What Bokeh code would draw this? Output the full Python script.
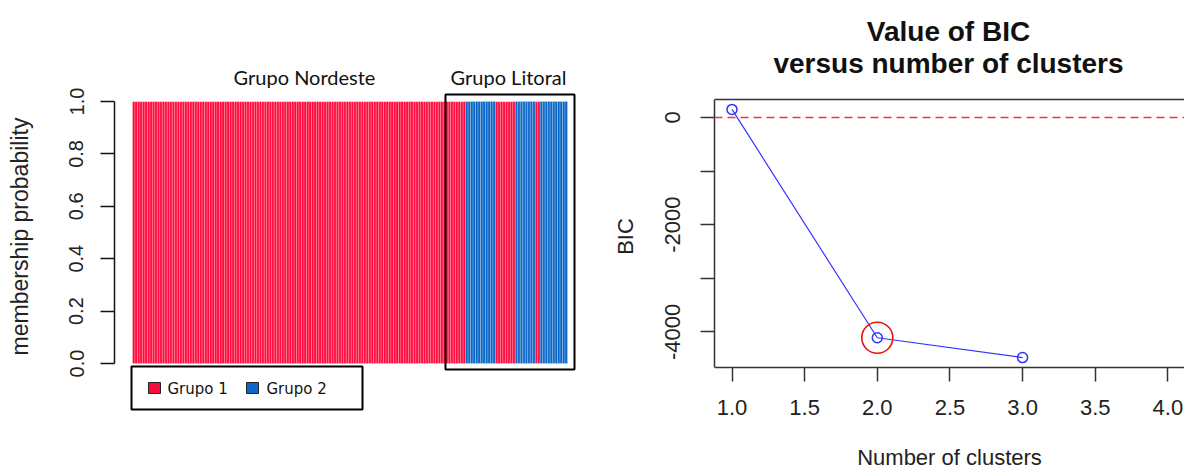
import numpy as np
from bokeh.plotting import figure
from bokeh.layouts import row
from bokeh.models import Range1d, FixedTicker, LinearAxis, Span
from bokeh.core.properties import value
from bokeh.embed import file_html
from bokeh.resources import INLINE

# ---------------- data: membership probability (structure-like) plot
groups = ["Grupo 1", "Grupo 2"]
group_colors = ["#FF0A3C", "#0A68C8"]
# consecutive runs of individuals (left to right) and the group they belong to
run_group = ["Grupo 1", "Grupo 2", "Grupo 1", "Grupo 2", "Grupo 1", "Grupo 2"]
run_length = [134, 12, 8, 8, 2, 11]
membership_prob = 1.0
region_labels = ["Grupo Nordeste", "Grupo Litoral"]
prob_ticks = [0.0, 0.2, 0.4, 0.6, 0.8, 1.0]
prob_tick_labels = ["0.0", "0.2", "0.4", "0.6", "0.8", "1.0"]

# ---------------- data: BIC vs number of clusters
n_clusters = [1, 2, 3]
bic_values = [150, -4110, -4480]
best_k = 2
bic_ticks = [0, -1000, -2000, -3000, -4000]
bic_tick_labels = ["0", "", "-2000", "", "-4000"]
k_ticks = [1.0, 1.5, 2.0, 2.5, 3.0, 3.5, 4.0]
k_tick_labels = ["1.0", "1.5", "2.0", "2.5", "3.0", "3.5", "4.0"]
bic_title = ["Value of BIC", "versus number of clusters"]

FONT = "Liberation Sans"
TXT = "#222222"
AX = "#333333"

# page size and shared vertical frame extent (page px)
PAGE_H = 472
FRAME_TOP, FRAME_BOTTOM = 4, 468

# ---------------- left panel
assign = []
for g, n in zip(run_group, run_length):
    assign += [g] * n
n_ind = len(assign)
idx = np.arange(n_ind)
p_g1 = np.array([membership_prob if a == groups[0] else 1 - membership_prob for a in assign])

px_per_bar = 435.0 / n_ind  # layout: bars span 435 px


def dx(px):
    return -0.5 + (px - 132) / px_per_bar


def dy(py):
    return (363 - py) / 262.0


p1 = figure(width=600, height=PAGE_H, output_backend="svg", toolbar_location=None,
            x_range=Range1d(dx(114), dx(590)),
            y_range=Range1d(dy(FRAME_BOTTOM), dy(FRAME_TOP)),
            x_axis_location=None, y_axis_location=None,
            min_border_left=114, min_border_right=10,
            min_border_top=FRAME_TOP, min_border_bottom=PAGE_H - FRAME_BOTTOM)
p1.title = None
p1.outline_line_color = None
p1.grid.visible = False
p1.background_fill_color = "white"
p1.border_fill_color = "white"

p1.vbar(x=idx, width=1.0, bottom=0, top=p_g1, fill_color=group_colors[0],
        line_color="white", line_width=0.5, line_alpha=0.45)
p1.vbar(x=idx, width=1.0, bottom=p_g1, top=1.0, fill_color=group_colors[1],
        line_color="white", line_width=0.5, line_alpha=0.45)

yax = LinearAxis(bounds=(0, 1), ticker=FixedTicker(ticks=prob_ticks),
                 major_label_overrides={t: l for t, l in zip(prob_ticks, prob_tick_labels)},
                 axis_label="membership probability")
yax.major_label_orientation = "vertical"
yax.axis_line_color = "#111111"
yax.axis_line_width = 1.5
yax.major_tick_line_color = "#111111"
yax.major_tick_line_width = 1.5
yax.major_tick_out = 14
yax.major_tick_in = 0
yax.minor_tick_line_color = None
yax.major_label_standoff = 17
yax.major_label_text_font = FONT
yax.major_label_text_font_size = "20px"
yax.major_label_text_color = TXT
yax.axis_label_text_font = FONT
yax.axis_label_text_font_size = "23px"
yax.axis_label_text_font_style = "normal"
yax.axis_label_text_color = TXT
yax.axis_label_standoff = 34
p1.add_layout(yax, "left")

# region labels and Litoral box
p1.text(x=[dx(304), dx(508)], y=[dy(76), dy(76)], text=region_labels,
        text_align="center", text_baseline="middle", text_font=value("Lato"),
        text_font_size="20px", text_color="#111111")
p1.quad(left=[dx(445)], right=[dx(574)], top=[dy(94)], bottom=[dy(369)],
        fill_color=None, line_color="black", line_width=2)

# legend
p1.quad(left=[dx(131)], right=[dx(362)], top=[dy(366)], bottom=[dy(409)],
        fill_color="white", line_color="black", line_width=2)
p1.quad(left=[dx(148), dx(246)], right=[dx(160), dx(258)],
        top=[dy(382), dy(382)], bottom=[dy(393), dy(393)],
        fill_color=group_colors, line_color="#222222", line_width=1)
p1.text(x=[dx(167), dx(266)], y=[dy(388), dy(388)], text=groups,
        text_align="left", text_baseline="middle", text_font=value("DejaVu Sans"),
        text_font_size="15px", text_color="#111111")

# ---------------- right panel
PX_PER_K = 145.3
PX_PER_BIC = 268.0 / 5000.0
BIC_TOP, BIC_BOTTOM = 335, -4665  # R's 4% padded range of the data


def kx(px):
    return 1 + (px - 731.5) / PX_PER_K


def ky(py):
    return BIC_TOP - (py - 99) / PX_PER_BIC


p2 = figure(width=584, height=PAGE_H, output_backend="svg", toolbar_location=None,
            x_range=Range1d(kx(714), kx(1184)),
            y_range=Range1d(ky(FRAME_BOTTOM), ky(FRAME_TOP)),
            x_axis_location=None, y_axis_location=None,
            min_border_left=114, min_border_right=0,
            min_border_top=FRAME_TOP, min_border_bottom=PAGE_H - FRAME_BOTTOM)
p2.title = None
p2.outline_line_color = None
p2.grid.visible = False

p2.add_layout(Span(location=0, dimension="width", line_color="#FF3030",
                   line_dash="8 5", line_width=1.5))
p2.add_layout(Span(location=BIC_TOP, dimension="width", line_color=AX, line_width=1.5))
p2.line(n_clusters, bic_values, line_color="#3535FF", line_width=1.2)
p2.scatter(n_clusters, bic_values, marker="circle", size=10, fill_color=None,
           line_color="#2F2FFF", line_width=1.5)
p2.scatter([best_k], [bic_values[best_k - 1]], marker="circle", size=31,
           fill_color=None, line_color="#E81010", line_width=1.6)

p2.text(x=[kx(948), kx(948)], y=[ky(31), ky(63)], text=bic_title,
        text_align="center", text_baseline="middle", text_font=value(FONT),
        text_font_size="28px", text_font_style="bold", text_color="#111111")


def style_axis(a, fs="22px"):
    a.axis_line_color = AX
    a.axis_line_width = 1.5
    a.major_tick_line_color = AX
    a.major_tick_line_width = 1.5
    a.major_tick_out = 14
    a.major_tick_in = 0
    a.minor_tick_line_color = None
    a.major_label_text_font = FONT
    a.major_label_text_font_size = fs
    a.major_label_text_color = TXT
    a.axis_label_text_font = FONT
    a.axis_label_text_font_size = "22px"
    a.axis_label_text_font_style = "normal"
    a.axis_label_text_color = TXT


ly = LinearAxis(bounds=(BIC_BOTTOM, BIC_TOP), ticker=FixedTicker(ticks=bic_ticks),
                major_label_overrides={t: l for t, l in zip(bic_ticks, bic_tick_labels)},
                axis_label="BIC")
style_axis(ly)
ly.major_label_orientation = "vertical"
ly.major_label_standoff = 20
ly.axis_label_standoff = 25
p2.add_layout(ly, "left")

bx = LinearAxis(ticker=FixedTicker(ticks=k_ticks),
                major_label_overrides={t: l for t, l in zip(k_ticks, k_tick_labels)},
                axis_label="Number of clusters", fixed_location=BIC_BOTTOM)
style_axis(bx)
bx.major_label_standoff = 18
bx.axis_label_standoff = 27
p2.add_layout(bx, "below")

layout = row(p1, p2)
open("out.html", "w").write(file_html(layout, INLINE))
